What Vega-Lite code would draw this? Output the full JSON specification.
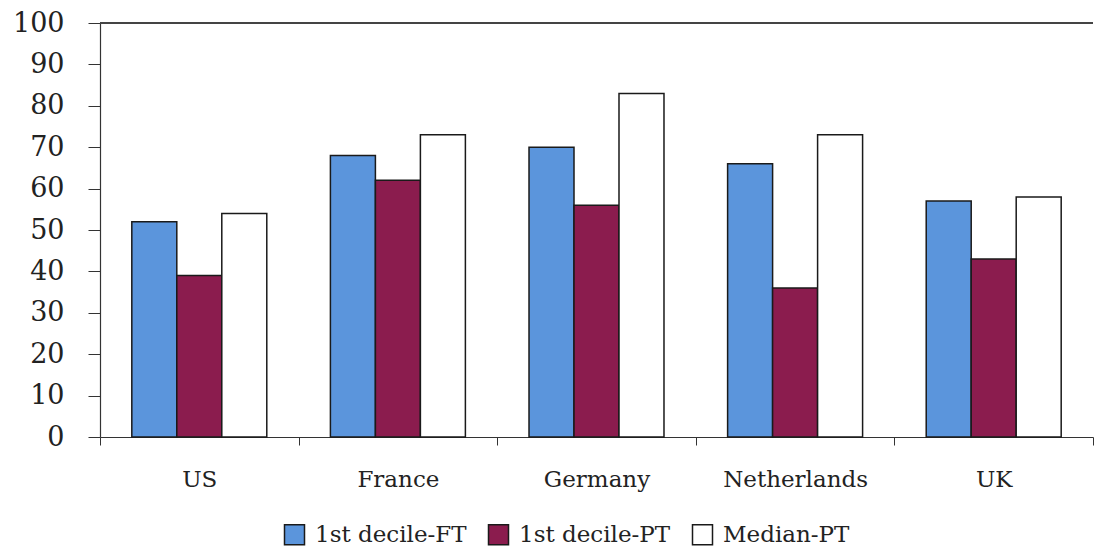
{
  "$schema": "https://vega.github.io/schema/vega-lite/v6.json",
  "width": 993,
  "height": 414,
  "autosize": {"type": "none"},
  "padding": {"left": 100, "top": 23, "right": 4, "bottom": 110},
  "background": "white",
  "config": {
    "view": {"stroke": null},
    "font": "DejaVu Serif"
  },
  "data": {
    "values": [
      {"country": "US", "series": "1st decile-FT", "value": 52},
      {"country": "US", "series": "1st decile-PT", "value": 39},
      {"country": "US", "series": "Median-PT", "value": 54},
      {"country": "France", "series": "1st decile-FT", "value": 68},
      {"country": "France", "series": "1st decile-PT", "value": 62},
      {"country": "France", "series": "Median-PT", "value": 73},
      {"country": "Germany", "series": "1st decile-FT", "value": 70},
      {"country": "Germany", "series": "1st decile-PT", "value": 56},
      {"country": "Germany", "series": "Median-PT", "value": 83},
      {"country": "Netherlands", "series": "1st decile-FT", "value": 66},
      {"country": "Netherlands", "series": "1st decile-PT", "value": 36},
      {"country": "Netherlands", "series": "Median-PT", "value": 73},
      {"country": "UK", "series": "1st decile-FT", "value": 57},
      {"country": "UK", "series": "1st decile-PT", "value": 43},
      {"country": "UK", "series": "Median-PT", "value": 58}
    ]
  },
  "layer": [
    {
      "mark": {"type": "bar", "stroke": "#1a1a1a", "strokeWidth": 1.5},
      "encoding": {
        "x": {
          "field": "country",
          "type": "nominal",
          "sort": ["US", "France", "Germany", "Netherlands", "UK"],
          "scale": {"paddingInner": 0, "paddingOuter": 0},
          "axis": {
            "title": null,
            "labelAngle": 0,
            "labelFont": "DejaVu Serif",
            "labelFontSize": 23,
            "labelColor": "#222",
            "labelPadding": 23,
            "tickBand": "extent",
            "tickSize": 8,
            "tickColor": "#333",
            "domainColor": "#333",
            "domainWidth": 1.2
          }
        },
        "xOffset": {
          "field": "series",
          "type": "nominal",
          "sort": ["1st decile-FT", "1st decile-PT", "Median-PT"],
          "scale": {"paddingInner": 0, "paddingOuter": 0.707}
        },
        "y": {
          "field": "value",
          "type": "quantitative",
          "scale": {"domain": [0, 100]},
          "axis": {
            "title": null,
            "values": [0, 10, 20, 30, 40, 50, 60, 70, 80, 90, 100],
            "grid": false,
            "labelFont": "DejaVu Serif",
            "labelFontSize": 27,
            "labelColor": "#222",
            "labelPadding": 24,
            "tickSize": 12,
            "tickColor": "#333",
            "domainColor": "#333",
            "domainWidth": 1.2
          }
        },
        "fill": {
          "field": "series",
          "type": "nominal",
          "sort": ["1st decile-FT", "1st decile-PT", "Median-PT"],
          "scale": {
            "domain": ["1st decile-FT", "1st decile-PT", "Median-PT"],
            "range": ["#5b95dc", "#8b1c4e", "#ffffff"]
          },
          "legend": {
            "title": null,
            "orient": "none",
            "legendX": 183,
            "legendY": 500,
            "padding": 0,
            "direction": "horizontal",
            "symbolType": "square",
            "symbolSize": 400,
            "symbolStrokeColor": "#1a1a1a",
            "symbolStrokeWidth": 1.5,
            "labelFont": "DejaVu Serif",
            "labelFontSize": 23,
            "labelColor": "#222",
            "labelOffset": 9,
            "columnPadding": 18
          }
        }
      }
    },
    {
      "mark": {"type": "rule", "color": "#444", "strokeWidth": 1.2},
      "encoding": {"y": {"datum": 100}}
    }
  ]
}
